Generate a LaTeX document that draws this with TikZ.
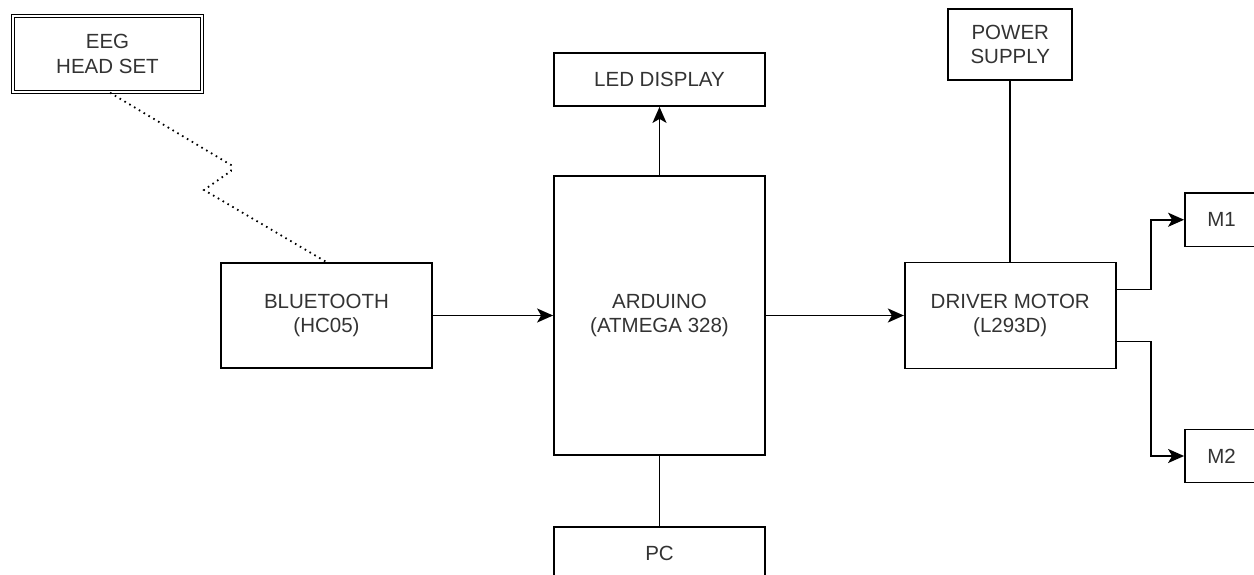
\documentclass[tikz,border=0pt]{standalone}
\usepackage{fontspec}
\setmainfont{Liberation Sans}
\usetikzlibrary{arrows.meta,calc}
\definecolor{txt}{HTML}{333333}
\tikzset{
  blk/.style={draw=black, line width=1.8pt, fill=white, rectangle, inner sep=0pt,
    align=center, text=txt, font=\fontsize{20.5}{24.5}\selectfont},
  arr/.style={line width=1.8pt, -{Stealth[length=16pt,width=14pt,inset=4pt]}},
  ln/.style={line width=1.8pt},
  dots/.style={line width=1.8pt, dash pattern=on 1.6pt off 4pt}
}
\begin{document}
\begin{tikzpicture}[x=1pt,y=-1pt]
\useasboundingbox (0,0) rectangle (1254,575);
\node[blk, double, line width=1.4pt, double distance=1.7pt, minimum width=189pt, minimum height=76pt] (eeg) at (107.5,54) {EEG\\HEAD SET};
\node[blk, minimum width=211pt, minimum height=105pt] (bt) at (326.5,315.5) {BLUETOOTH\\(HC05)};
\node[blk, minimum width=211pt, minimum height=279pt] (ard) at (659.5,315.5) {ARDUINO\\(ATMEGA 328)};
\node[blk, minimum width=211pt, minimum height=53pt] (led) at (659.5,79.5) {LED DISPLAY};
\node[blk, minimum width=211pt, minimum height=53pt] (pc) at (659.5,553.5) {PC};
\node[blk, minimum width=124pt, minimum height=71pt] (psu) at (1010.25,44.5) {POWER\\SUPPLY};
\node[blk, minimum width=211pt, minimum height=106pt] (drv) at (1010.25,315.5) {DRIVER MOTOR\\(L293D)};
\node[blk, minimum width=73pt, minimum height=53.5pt] (m1) at (1221.5,219.75) {M1};
\node[blk, minimum width=73pt, minimum height=53pt] (m2) at (1221.5,456) {M2};
\coordinate (z1) at (231,165);
\coordinate (z2) at (231,171);
\coordinate (z3) at (204,190);
\draw[dots] ([xshift=2.5pt]eeg.south) -- (z1) -- (z2) -- (z3) -- (bt.north);
\draw[arr] (bt.east) -- (ard.west);
\draw[arr] (ard.north) -- (led.south);
\draw[ln] (ard.south) -- (pc.north);
\draw[arr] (ard.east) -- (drv.west);
\draw[ln] (psu.south) -- (drv.north);
\draw[arr] ([yshift=26pt]drv.east) -- ++(34,0) |- (m1.west);
\draw[arr] ([yshift=-26pt]drv.east) -- ++(34,0) |- (m2.west);
\end{tikzpicture}
\end{document}
